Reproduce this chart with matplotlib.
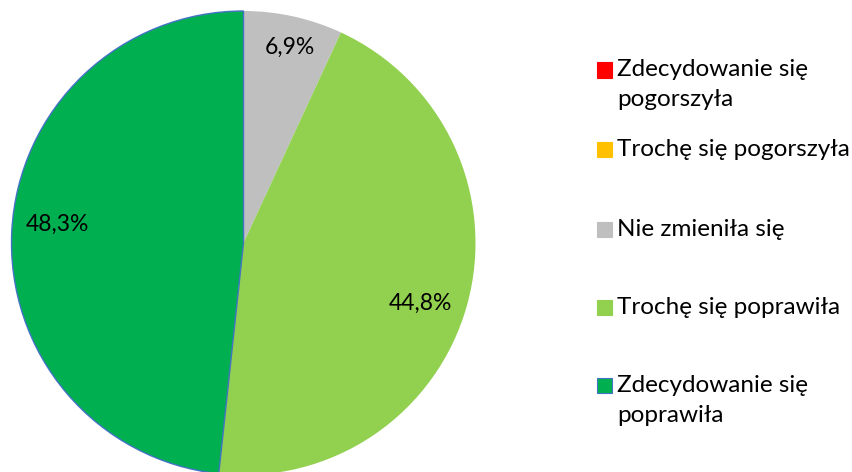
import matplotlib.pyplot as plt
from matplotlib.patches import Rectangle

categories = ['Zdecydowanie się\npogorszyła', 'Trochę się pogorszyła', 'Nie zmieniła się',
              'Trochę się poprawiła', 'Zdecydowanie się\npoprawiła']
values = [0.0, 0.0, 6.9, 44.8, 48.3]
colors = ['#FF0000', '#FFC000', '#BFBFBF', '#92D050', '#00B050']
pct_labels = ['6,9%', '44,8%', '48,3%']

plt.rcParams['font.family'] = ['Lato', 'DejaVu Sans']

W, H = 853, 472
fig = plt.figure(figsize=(W / 100, H / 100), dpi=100)

# pie axes: radius 232 px, center (243.5, 243) from top-left
r = 232
cx, cy = 243.5, H - 243
ax = fig.add_axes([(cx - r) / W, (cy - r) / H, 2 * r / W, 2 * r / H])
wedges, _ = ax.pie(values, colors=colors, startangle=90, counterclock=False, radius=1)
for w in wedges:
    w.set_linewidth(0)
wedges[-1].set_edgecolor('#4472C4')
wedges[-1].set_linewidth(1.0)
ax.set_xlim(-1, 1)
ax.set_ylim(-1, 1)
ax.set_aspect('equal')
ax.axis('off')

label_pos = [(0.198, 0.845), (0.761, -0.259), (-0.800, 0.082)]
for txt, (x, y) in zip(pct_labels, label_pos):
    ax.text(x, y, txt, ha='center', va='center', fontsize=16.5, color='black')

# legend
leg_y = [70, 149, 229, 307, 385]
for lab, col, y in zip(categories, colors, leg_y):
    ec = '#4472C4' if col == '#00B050' else col
    fig.patches.append(Rectangle((597 / W, (H - y - 7.5) / H), 15 / W, 15 / H,
                                 transform=fig.transFigure, facecolor=col,
                                 edgecolor=ec, linewidth=0.8))
    for i, ln in enumerate(lab.split('\n')):
        fig.text(617 / W, (H - y - i * 30) / H, ln, ha='left', va='center',
                 fontsize=17.5, color='black')

fig.savefig('out.png', dpi=100)
